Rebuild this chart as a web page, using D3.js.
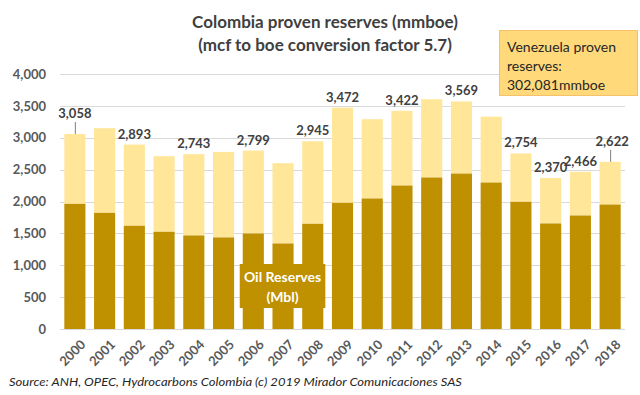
<!DOCTYPE html>
<html>
<head>
<meta charset="utf-8">
<script src="https://cdn.jsdelivr.net/npm/d3@7"></script>
<style>
  body { margin: 0; background: #fff; }
  svg { font-family: Lato, "Open Sans", sans-serif; }
</style>
</head>
<body>
<svg id="chart" width="640" height="395"></svg>
<script>
// data
var years = ["2000","2001","2002","2003","2004","2005","2006","2007","2008","2009",
             "2010","2011","2012","2013","2014","2015","2016","2017","2018"]
var totals = [3058, 3150, 2893, 2711, 2743, 2778, 2799, 2601, 2945, 3472,
              3291, 3422, 3604, 3569, 3331, 2754, 2370, 2466, 2622]
var oil = [1963, 1822, 1619, 1525, 1467, 1436, 1498, 1341, 1650, 1979,
           2047, 2250, 2376, 2438, 2297, 1995, 1655, 1780, 1952]
var labelled = ["2000","2002","2004","2006","2008","2009","2011","2013","2015","2016","2017","2018"]
var leader = ["2000","2018"]
var yTicks = [0, 500, 1000, 1500, 2000, 2500, 3000, 3500, 4000]
var titleLines = ["Colombia proven reserves (mmboe)", "(mcf to boe conversion factor 5.7)"]
var noteLines = ["Venezuela proven", "reserves:", "302,081mmboe"]
var seriesName = ["Oil Reserves", "(Mbl)"]
var source = "Source:  ANH, OPEC, Hydrocarbons Colombia (c) 2019 Mirador Comunicaciones SAS"

var svg = d3.select("#chart")
var margin = {left: 60, right: 15, top: 74, bottom: 66}
var W = 640, H = 395

var x = d3.scaleBand().domain(years).range([margin.left, W - margin.right]).paddingInner(0.29).paddingOuter(0.145)
var y = d3.scaleLinear().domain([0, 4000]).range([H - margin.bottom, margin.top])

// gridlines
svg.append("g")
    .selectAll("line")
    .data(yTicks)
    .enter()
        .append("line")
        .attr("x1", margin.left).attr("x2", W - margin.right)
        .attr("y1", d => Math.round(y(d)) + 0.5).attr("y2", d => Math.round(y(d)) + 0.5)
        .attr("stroke", "#d9d9d9")

// y labels
var yAxis = svg.append("g")
    .attr("transform", "translate(" + (margin.left - 14) + ",0)")
    .call(d3.axisLeft(y).tickValues(yTicks).tickSize(0).tickPadding(0).tickFormat(d3.format(",")))
yAxis.select(".domain").remove()
yAxis.selectAll("text")
    .attr("fill", "#595959").attr("font-size", 13).attr("font-weight", "bold")
    .attr("font-family", "Lato, sans-serif")

var rows = years.map((yr, i) => ({year: yr, total: totals[i], oil: oil[i]}))

// total (light) bars
svg.append("g")
    .selectAll("rect")
    .data(rows)
    .enter()
        .append("rect")
        .attr("x", d => x(d.year)).attr("width", x.bandwidth())
        .attr("y", d => y(d.total)).attr("height", d => y(d.oil) - y(d.total))
        .attr("fill", "#ffe699")

// oil (dark) bars
svg.append("g")
    .selectAll("rect")
    .data(rows)
    .enter()
        .append("rect")
        .attr("x", d => x(d.year)).attr("width", x.bandwidth())
        .attr("y", d => y(d.oil)).attr("height", d => y(0) - y(d.oil))
        .attr("fill", "#bf9000")

// value labels
var lab = svg.append("g")
    .selectAll("g")
    .data(rows.filter(d => labelled.includes(d.year)))
    .enter()
        .append("g")
lab.append("text")
    .attr("x", d => x(d.year) + x.bandwidth() / 2 + (d.year === "2018" ? 2 : 0))
    .attr("y", d => y(d.total) - (leader.includes(d.year) ? 16 : 6))
    .attr("text-anchor", "middle")
    .attr("font-size", 13).attr("font-weight", "bold").attr("fill", "#404040")
    .text(d => d3.format(",")(d.total))
lab.filter(d => leader.includes(d.year))
    .append("line")
    .attr("x1", d => x(d.year) + x.bandwidth() / 2 + 0.5)
    .attr("x2", d => x(d.year) + x.bandwidth() / 2 + 0.5)
    .attr("y1", d => y(d.total) - 12).attr("y2", d => y(d.total))
    .attr("stroke", "#7f7f7f")

// x labels
svg.append("g")
    .selectAll("text")
    .data(years)
    .enter()
        .append("text")
        .attr("transform", d => "translate(" + (x(d) + x.bandwidth() / 2 + 5) + "," + (y(0) + 10) + ") rotate(-45)")
        .attr("text-anchor", "end").attr("dy", "0.7em")
        .attr("font-size", 13).attr("font-weight", "bold").attr("fill", "#595959")
        .text(d => d)

// series label box
var sx = x("2006") - 3, sw = x("2008") + x.bandwidth() + 2 - sx
svg.append("rect")
    .attr("x", sx).attr("y", 264).attr("width", sw).attr("height", 44)
    .attr("fill", "#bf9000")
svg.append("g")
    .selectAll("text")
    .data(seriesName)
    .enter()
        .append("text")
        .attr("x", sx + sw / 2).attr("y", (d, i) => 282 + i * 20)
        .attr("text-anchor", "middle")
        .attr("font-size", 14).attr("font-weight", "bold").attr("fill", "#fff")
        .text(d => d)

// title
svg.append("g")
    .selectAll("text")
    .data(titleLines)
    .enter()
        .append("text")
        .attr("x", 325).attr("y", (d, i) => 28 + i * 23)
        .attr("text-anchor", "middle")
        .attr("font-size", 17).attr("font-weight", "bold").attr("fill", "#404040")
        .text(d => d)

// venezuela note
svg.append("rect")
    .attr("x", 499.5).attr("y", 30.5).attr("width", 138).attr("height", 65)
    .attr("fill", "#ffd97a").attr("stroke", "#f5c26b")
svg.append("g")
    .selectAll("text")
    .data(noteLines)
    .enter()
        .append("text")
        .attr("x", 507).attr("y", (d, i) => 52 + i * 19)
        .attr("font-size", 14).attr("fill", "#262626")
        .text(d => d)

// source
svg.append("text")
    .attr("x", 9).attr("y", 386)
    .attr("font-size", 12).attr("font-style", "italic").attr("fill", "#262626")
    .attr("textLength", 453).attr("lengthAdjust", "spacingAndGlyphs")
    .text(source)
</script>
</body>
</html>
